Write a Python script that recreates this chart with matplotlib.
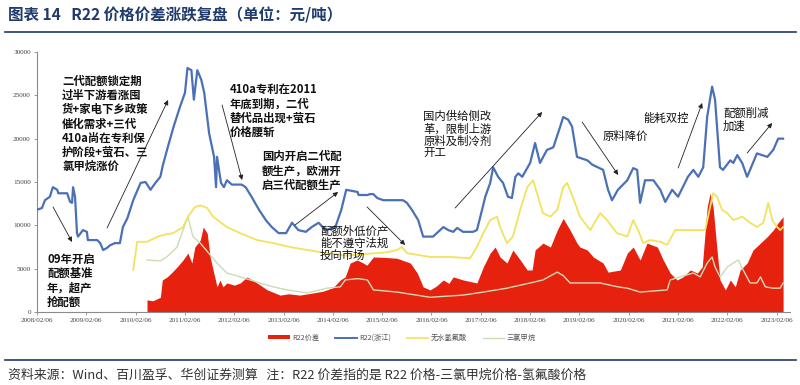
import matplotlib
matplotlib.use("Agg")
import matplotlib.pyplot as plt
from matplotlib.lines import Line2D
from matplotlib.patches import Patch

plt.rcParams['font.family'] = ['Noto Sans CJK SC', 'DejaVu Sans']

# ---------------- data (decimal years) ----------------
r22_year = [2008.10, 2008.20, 2008.26, 2008.36, 2008.42, 2008.51, 2008.53, 2008.71, 2008.77, 2008.81,
            2008.83, 2008.87, 2008.91, 2008.93, 2009.03, 2009.11, 2009.13, 2009.32, 2009.38, 2009.44,
            2009.52, 2009.58, 2009.68, 2009.78, 2009.84, 2009.93, 2010.05, 2010.20, 2010.30, 2010.40,
            2010.50, 2010.60, 2010.65, 2010.75, 2010.87, 2011.00, 2011.10, 2011.15, 2011.23, 2011.28,
            2011.35, 2011.43, 2011.49, 2011.59, 2011.69, 2011.73, 2011.75, 2011.83, 2011.89, 2011.95,
            2012.05, 2012.25, 2012.33, 2012.45, 2012.60, 2012.74, 2012.86, 2013.00, 2013.15, 2013.27,
            2013.40, 2013.55, 2013.67, 2013.81, 2013.95, 2014.15, 2014.27, 2014.37, 2014.60, 2014.62,
            2014.80, 2014.85, 2014.92, 2015.00, 2015.12, 2015.52, 2015.60, 2015.70, 2015.83, 2015.93,
            2016.13, 2016.34, 2016.44, 2016.54, 2016.62, 2016.74, 2016.94, 2017.02, 2017.09, 2017.19,
            2017.29, 2017.35, 2017.45, 2017.55, 2017.65, 2017.73, 2017.80, 2017.86, 2017.94, 2018.10,
            2018.20, 2018.30, 2018.44, 2018.57, 2018.71, 2018.77, 2018.87, 2018.95, 2019.05, 2019.26,
            2019.36, 2019.58, 2019.68, 2019.76, 2019.88, 2020.07, 2020.19, 2020.27, 2020.33, 2020.43,
            2020.60, 2020.74, 2020.84, 2020.98, 2021.10, 2021.30, 2021.41, 2021.51, 2021.61, 2021.69,
            2021.79, 2021.85, 2021.95, 2022.01, 2022.16, 2022.22, 2022.30, 2022.40, 2022.50, 2022.56,
            2022.70, 2022.91, 2023.03, 2023.13, 2023.23]
r22_price = [11800, 12000, 12900, 13300, 14400, 14100, 13700, 13700, 12700, 12600,
             14400, 13300, 9100, 8700, 9450, 9250, 8300, 8300, 7950, 7150,
             7400, 7700, 7950, 7950, 9800, 10800, 12900, 14900, 15000, 14100,
             14900, 15600, 16900, 19000, 21400, 23700, 25300, 28150, 27900, 24500,
             27900, 26800, 25300, 20600, 17900, 14400, 17900, 14900, 14400, 15200,
             14700, 14700, 14400, 13300, 11800, 10600, 9800, 9100, 9100, 10300,
             9450, 9250, 9800, 10300, 9450, 9800, 11800, 14100, 13850, 13500,
             13500, 13600, 13600, 13150, 12900, 12900, 12600, 11800, 10600, 8700,
             8700, 9800, 9450, 9250, 9700, 9250, 9250, 9450, 11000, 13300,
             14900, 16700, 15600, 14900, 13300, 13150, 15600, 16000, 15600, 17200,
             19500, 17200, 18700, 19000, 21400, 22500, 22200, 21400, 17900, 17500,
             17000, 16400, 14100, 12900, 14100, 15200, 16600, 16400, 12600, 15200,
             15200, 14100, 12700, 14100, 13300, 15600, 16400, 15600, 16700, 22500,
             26000, 24500, 16700, 16400, 17500, 17200, 18100, 17200, 15600, 16400,
             18300, 17900, 18700, 20000, 20000]

hf_year = [2010.05, 2010.13, 2010.33, 2010.55, 2010.66, 2010.86, 2011.06, 2011.16, 2011.30, 2011.41,
           2011.55, 2011.67, 2011.95, 2012.22, 2012.56, 2012.89, 2013.23, 2013.58, 2013.98, 2014.39,
           2015.20, 2015.40, 2015.50, 2015.60, 2016.07, 2016.48, 2016.88, 2017.02, 2017.15, 2017.29,
           2017.43, 2017.49, 2017.63, 2017.75, 2017.90, 2018.04, 2018.16, 2018.26, 2018.36, 2018.51,
           2018.65, 2018.77, 2018.85, 2018.97, 2019.11, 2019.32, 2019.52, 2019.66, 2019.86, 2020.07,
           2020.19, 2020.29, 2020.39, 2020.53, 2020.74, 2020.88, 2021.04, 2021.65, 2021.81, 2021.89,
           2021.99, 2022.10, 2022.22, 2022.40, 2022.56, 2022.70, 2022.83, 2022.93, 2023.01, 2023.11,
           2023.17, 2023.23]
hf_price = [4850, 8100, 8100, 8700, 8900, 9100, 9800, 11000, 12100, 12300,
            12000, 11000, 9800, 9100, 8300, 7950, 7500, 7150, 6800, 6500,
            6900, 7150, 7500, 6800, 6350, 6350, 6200, 7500, 9100, 10600,
            11000, 9800, 7950, 8700, 11800, 14400, 15200, 13300, 11400, 11000,
            11800, 14400, 14900, 13200, 11000, 9450, 11400, 10600, 9100, 8700,
            10600, 9450, 7950, 8300, 8100, 7750, 9450, 9450, 13700, 13300,
            11800, 11400, 10600, 11000, 10300, 9800, 10300, 12600, 10600, 9800,
            9450, 9800]

spread_year = [2010.33, 2010.45, 2010.60, 2010.64, 2010.74, 2010.84, 2010.94, 2011.06, 2011.16, 2011.24,
               2011.30, 2011.41, 2011.47, 2011.55, 2011.61, 2011.67, 2011.75, 2011.81, 2011.87, 2011.95,
               2012.10, 2012.22, 2012.36, 2012.56, 2012.77, 2013.03, 2013.20, 2013.43, 2013.70, 2013.90,
               2014.10, 2014.25, 2014.35, 2014.45, 2014.59, 2014.70, 2014.79, 2014.92, 2015.15, 2015.40,
               2015.67, 2015.81, 2015.93, 2016.07, 2016.20, 2016.34, 2016.45, 2016.54, 2016.74, 2017.02,
               2017.15, 2017.29, 2017.39, 2017.49, 2017.63, 2017.75, 2017.90, 2018.04, 2018.14, 2018.20,
               2018.36, 2018.51, 2018.65, 2018.77, 2018.91, 2019.05, 2019.11, 2019.26, 2019.38, 2019.58,
               2019.68, 2019.93, 2020.07, 2020.19, 2020.33, 2020.47, 2020.68, 2020.80, 2020.94, 2021.08,
               2021.20, 2021.35, 2021.49, 2021.59, 2021.69, 2021.75, 2021.81, 2021.89, 2021.95, 2022.06,
               2022.16, 2022.26, 2022.36, 2022.50, 2022.62, 2022.77, 2022.91, 2023.03, 2023.13, 2023.23]
spread_value = [1400, 1300, 1700, 3700, 4050, 4600, 5200, 6000, 6800, 5650,
                7500, 8300, 9800, 9100, 6350, 4850, 2900, 3700, 2900, 3350,
                3100, 3350, 4050, 3350, 2550, 1950, 2100, 1950, 2200, 2400,
                2800, 3700, 4050, 5650, 6000, 5700, 5400, 6350, 6300, 6200,
                5650, 4500, 2900, 2550, 3000, 3700, 3300, 4050, 3700, 3350,
                5200, 6800, 7500, 6350, 5650, 7150, 6000, 4850, 4850, 7150,
                7950, 7500, 9450, 10800, 9450, 7950, 7500, 7150, 6350, 5650,
                4600, 4850, 6800, 7500, 6000, 7950, 7500, 6000, 4500, 3700,
                4050, 4850, 4500, 5200, 12100, 13700, 12100, 7150, 3700, 2550,
                3700, 2900, 4850, 5650, 7150, 7950, 8700, 9450, 10300, 11000]

chcl3_year = [2010.33, 2010.60, 2010.74, 2010.94, 2011.06, 2011.16, 2011.26, 2011.41, 2011.55, 2011.75,
              2011.95, 2012.22, 2012.62, 2012.89, 2013.17, 2013.58, 2013.98, 2014.25, 2014.35, 2014.60,
              2014.80, 2014.92, 2015.40, 2016.07, 2016.74, 2017.15, 2017.63, 2018.10, 2018.36, 2018.65,
              2018.77, 2018.91, 2019.52, 2019.88, 2020.07, 2020.33, 2020.88, 2020.94, 2021.14, 2021.41,
              2021.55, 2021.69, 2021.79, 2021.85, 2021.95, 2022.10, 2022.22, 2022.32, 2022.42, 2022.56,
              2022.70, 2022.77, 2022.87, 2023.03, 2023.17, 2023.23]
chcl3_price = [6000, 5900, 6400, 7500, 9450, 11000, 8700, 7950, 7000, 5650,
               4500, 4050, 3350, 2900, 2550, 2200, 2750, 2900, 3700, 3850,
               3700, 2550, 2300, 1700, 1950, 2300, 2750, 3350, 3700, 4600,
               4200, 3350, 3350, 2900, 2750, 2300, 2550, 3700, 4050, 4500,
               4050, 5650, 6350, 5200, 4050, 5200, 5650, 6000, 4850, 3350,
               3350, 4050, 2900, 2750, 2750, 3350]

tick_years = list(range(2008, 2024))
tick_labels = [f"{y}/02/06" for y in tick_years]
y_ticks = [0, 5000, 10000, 15000, 20000, 25000, 30000]

series_labels = ["R22价差", "R22(浙江)", "无水氢氟酸", "三氯甲烷"]

title_text = "图表 14   R22 价格价差涨跌复盘（单位：元/吨）"
footer_text = "资料来源：Wind、百川盈孚、华创证券测算   注：R22 价差指的是 R22 价格-三氯甲烷价格-氢氟酸价格"

# ---------------- style ----------------
C_RED = "#e6220f"
C_BLUE = "#4a70b6"
C_YEL = "#f3e25e"
C_GRN = "#cadcb4"
C_NAVY = "#1f3a6b"

W, H = 800, 385
fig = plt.figure(figsize=(W / 100, H / 100), dpi=100)

def fx(px):
    return px / W

def fy(py):
    return 1 - py / H

ax = fig.add_axes([fx(37), fy(312), fx(790) - fx(37), fy(52) - fy(312)])

ax.fill_between(spread_year, 0, spread_value, color=C_RED, lw=0, zorder=1)
ax.plot(chcl3_year, chcl3_price, color=C_GRN, lw=1.0, zorder=2)
ax.plot(hf_year, hf_price, color=C_YEL, lw=1.3, zorder=3)
ax.plot(r22_year, r22_price, color=C_BLUE, lw=1.6, zorder=4)

ax.set_xlim(2008.10, 2023.37)
ax.set_ylim(0, 30000)
ax.set_xticks([y + 36 / 365 for y in tick_years])
ax.set_xticklabels(tick_labels, family="Liberation Serif", fontsize=5.2, color="#444")
ax.set_yticks(y_ticks)
ax.set_yticklabels([str(v) for v in y_ticks], family="Liberation Serif", fontsize=5.2, color="#444")
for s in ["top", "right"]:
    ax.spines[s].set_visible(False)
for s in ["left", "bottom"]:
    ax.spines[s].set_color("#8a8a8a")
    ax.spines[s].set_linewidth(0.8)
ax.tick_params(axis="both", length=2.5, width=0.6, color="#8a8a8a", pad=2)

# ---------------- annotations ----------------
def to_data(px, py):
    return (2008.10 + (px - 37) / 49.3, (312 - py) * 30000 / 260)

arrow_kw = dict(arrowstyle="-|>", lw=0.6, color="#222222", mutation_scale=7, shrinkA=0, shrinkB=0)

notes = [
    ("二代配额锁定期\n过半下游看涨囤\n货+家电下乡政策\n催化需求+三代\n410a尚在专利保\n护阶段+萤石、三\n氯甲烷涨价", (62, 75), "bold"),
    ("09年开启\n配额基准\n年，超产\n抢配额", (47, 253), "bold"),
    ("410a专利在2011\n年底到期，二代\n替代品出现+萤石\n价格腰斩", (230, 83), "bold"),
    ("国内开启二代配\n额生产，欧洲开\n启三代配额生产", (262, 150), "bold"),
    ("配额外低价产\n能不遵守法规\n投向市场", (320, 225), "normal"),
    ("国内供给侧改\n革，限制上游\n原料及制冷剂\n开工", (423, 111), "normal"),
    ("原料降价", (602, 131), "normal"),
    ("能耗双控", (643, 113), "normal"),
    ("配额削减\n加速", (723, 108), "normal"),
]
for txt, (px, py), wt in notes:
    x, y = to_data(px, py)
    ax.text(x, y, txt, ha="left", va="top", fontsize=8.2, fontweight=wt,
            color="#111111", linespacing=1.12, zorder=6)

arrows = [
    ((53, 207), (72, 242)),
    ((107, 228), (168, 100)),
    ((222, 105), (242, 180)),
    ((295, 225), (338, 192)),
    ((367, 207), (405, 245)),
    ((455, 208), (542, 112)),
    ((582, 122), (618, 175)),
    ((678, 168), (702, 103)),
    ((747, 153), (772, 123)),
]
for (sx, sy), (ex, ey) in arrows:
    ax.annotate("", xy=to_data(ex, ey), xytext=to_data(sx, sy), arrowprops=arrow_kw, zorder=6)

# ---------------- legend ----------------
handles = [
    Patch(facecolor=C_RED, edgecolor="none"),
    Line2D([], [], color=C_BLUE, lw=1.4),
    Line2D([], [], color=C_YEL, lw=1.2),
    Line2D([], [], color=C_GRN, lw=1.0),
]
leg = fig.legend(handles, series_labels, loc="center", bbox_to_anchor=(fx(402), fy(338)),
                 ncol=4, frameon=False, fontsize=5.2, handlelength=3.0, handleheight=0.45,
                 handletextpad=0.3, columnspacing=2.2)
for t in leg.get_texts():
    t.set_color("#555555")

# ---------------- title / footer ----------------
fig.text(fx(8), fy(15), title_text, ha="left", va="center", fontsize=11.2,
         fontweight="bold", color=C_NAVY)
fig.add_artist(Line2D([fx(5), fx(796)], [fy(32), fy(32)], color=C_NAVY, lw=1.2))
fig.add_artist(Line2D([fx(5), fx(796)], [fy(360), fy(360)], color=C_NAVY, lw=1.2))
fig.text(fx(8), fy(375), footer_text, ha="left", va="center", fontsize=9.3,
         style="italic", color="#333333")

fig.savefig("out.png", dpi=100)
